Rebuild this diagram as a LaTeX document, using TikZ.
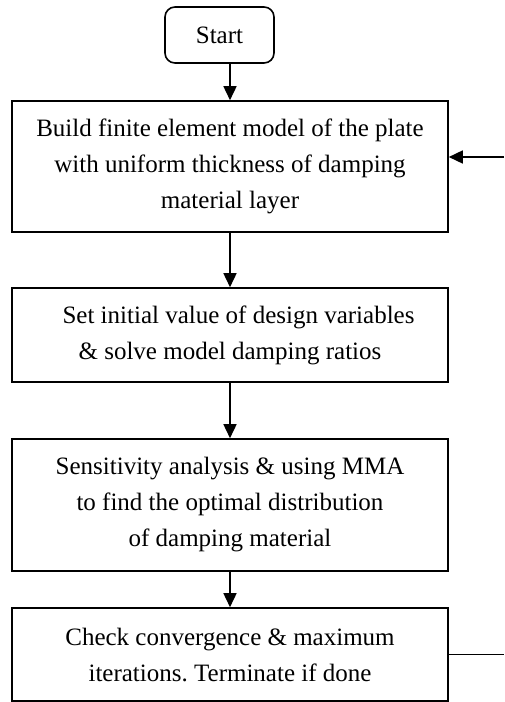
\documentclass[tikz,border=0pt]{standalone}
\usepackage{fontspec}
\setmainfont{Liberation Serif}
\usetikzlibrary{arrows.meta,calc}
\frenchspacing
\begin{document}
\begin{tikzpicture}[x=1pt,y=-1pt,
  box/.style={draw,line width=1.6pt,minimum width=436pt,align=center,inner sep=0pt,font=\fontsize{25}{36}\selectfont},
  startbox/.style={draw,line width=1.6pt,rounded corners=10pt,minimum width=109pt,minimum height=56pt,inner sep=0pt,font=\fontsize{25}{36}\selectfont},
  arr/.style={line width=1.6pt,-{Triangle[length=14pt,width=13pt]}},
  ln/.style={line width=1.6pt}]
\useasboundingbox (0,0) rectangle (504,702);
\node[startbox] (start) at (219.5,35) {Start};
\node[box,minimum height=131pt] (b1) at (230,166.5) {Build finite element model of the plate\\with uniform thickness of damping\\material layer};
\node[box,minimum height=94pt] (b2) at (230,335) {\hspace*{17pt}Set initial value of design variables\\\& solve model damping ratios};
\node[box,minimum height=132pt] (b3) at (230,505) {Sensitivity analysis \& using MMA\\to find the optimal distribution\\of damping material};
\node[box,minimum height=93pt] (b4) at (230,654.5) {Check convergence \& maximum\\iterations.\ Terminate if done};
\coordinate (fbin) at (504,157);
\coordinate (fbout) at (504,653);
\draw[arr] (b1.north |- start.south) -- (b1.north);
\draw[arr] (b1.south) -- (b2.north);
\draw[arr] (b2.south) -- (b3.north);
\draw[arr] (b3.south) -- (b4.north);
\draw[arr] (fbin) -- (fbin -| b1.east);
\draw[ln] (b4.east) -- (b4.east -| fbout);
\end{tikzpicture}
\end{document}
